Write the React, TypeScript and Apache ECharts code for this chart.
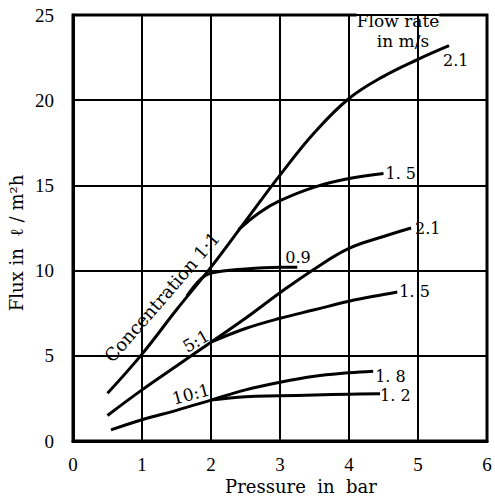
import React, { useEffect, useRef } from "react";
import * as echarts from "echarts";

const xTicks = [0, 1, 2, 3, 4, 5, 6];
const yTicks = [0, 5, 10, 15, 20, 25];

// Concentration 1:1
const c1_v21: number[][] = [[0.5, 2.8], [1, 5.1], [1.5, 7.7], [2, 10.2], [2.5, 12.9], [3, 15.6], [3.5, 18.1], [4, 20.1], [4.5, 21.4], [5, 22.4], [5.45, 23.2]];
const c1_v15: number[][] = [[2.4, 12.4], [2.7, 13.4], [3, 14.1], [3.5, 14.9], [4, 15.4], [4.5, 15.7]];
const c1_v09: number[][] = [[1.65, 8.5], [1.85, 9.5], [2, 9.85], [2.5, 10.1], [3, 10.2], [3.25, 10.2]];
// Concentration 5:1
const c5_v21: number[][] = [[0.5, 1.5], [1, 3.0], [1.5, 4.4], [2, 5.8], [2.5, 7.2], [3, 8.7], [3.5, 10.1], [4, 11.3], [4.5, 12.0], [4.9, 12.5]];
const c5_v15: number[][] = [[2, 5.8], [2.5, 6.6], [3, 7.2], [3.5, 7.7], [4, 8.2], [4.5, 8.6], [4.7, 8.75]];
// Concentration 10:1
const c10_v18: number[][] = [[0.55, 0.65], [1, 1.25], [1.5, 1.8], [2, 2.4], [2.5, 3.0], [3, 3.45], [3.5, 3.8], [4, 4.0], [4.35, 4.1]];
const c10_v12: number[][] = [[2, 2.4], [2.5, 2.6], [3, 2.65], [3.5, 2.7], [4, 2.75], [4.45, 2.78]];

const FONT = "Liberation Serif";
const LFONT = "DejaVu Serif";

export default function App() {
  const ref = useRef<HTMLDivElement>(null);
  useEffect(() => {
    if (!ref.current) return;
    const chart = echarts.init(ref.current, null, { renderer: "svg" });
    const line = (data: number[][], label: string, offset: number[]) => ({
      type: "line",
      data,
      smooth: 0.4,
      showSymbol: false,
      symbol: "none",
      lineStyle: { color: "#000", width: 3 },
      endLabel: label
        ? { show: true, formatter: label, offset, distance: 2, color: "#000", fontFamily: LFONT, fontSize: 16 }
        : { show: false },
      silent: true,
    });
    const txt = (x: number, y: number, text: string, rot = 0, bg = false, size = 17, pad: number[] = [0, 0]) => ({
      type: "text", x, y, rotation: rot * Math.PI / 180,
      style: { text, fontFamily: LFONT, fontSize: size, fill: "#000", align: "center", verticalAlign: "middle", backgroundColor: bg ? "#fff" : undefined, padding: pad },
    });
    chart.setOption({
      animation: false,
      backgroundColor: "#fff",
      grid: { left: 73, top: 15, width: 414, height: 426, show: true, borderColor: "#000", borderWidth: 3, backgroundColor: "transparent" },
      xAxis: {
        type: "value", min: 0, max: 6, interval: 1,
        axisLine: { lineStyle: { color: "#000", width: 3 } },
        axisTick: { show: false },
        axisLabel: { color: "#000", fontFamily: FONT, fontSize: 19, margin: 14, formatter: (v: number) => String(xTicks.includes(v) ? v : "") },
        splitLine: { show: true, lineStyle: { color: "#000", width: 2 } },
      },
      yAxis: {
        type: "value", min: 0, max: 25, interval: 5,
        axisLine: { show: true, lineStyle: { color: "#000", width: 3 } },
        axisTick: { show: false },
        axisLabel: { color: "#000", fontFamily: FONT, fontSize: 19, margin: 19, formatter: (v: number) => String(yTicks.includes(v) ? v : "") },
        splitLine: { show: true, lineStyle: { color: "#000", width: 2 } },
      },
      series: [
        line(c1_v21, "2.1", [-8, 15]),
        line(c1_v15, "1. 5", [0, 0]),
        line(c1_v09, "", [0, 0]),
        line(c5_v21, "2.1", [2, 0]),
        line(c5_v15, "1. 5", [0, 0]),
        line(c10_v18, "1. 8", [0, 5]),
        line(c10_v12, "1. 2", [-2, 2]),
      ],
      graphic: [
        { type: "rect", shape: { x: 418, y: 17, width: 6, height: 38 }, style: { fill: "#fff" } },
        txt(298, 257, "0.9", 0, true, 16, [3, 2]),
        txt(398, 21, "Flow rate", 0, true),
        txt(403, 41, "in m/s", 0, true),
        txt(162, 297, "Concentration 1:1", 49, true, 18),
        txt(196, 341, "5:1", 30, false),
        txt(191, 394, "10:1", 15, false),
        txt(301, 486, "Pressure  in  bar", 0, false, 18),
        txt(16, 243, "Flux in  \u2113 / m\u00b2h", 90, false, 18),
      ],
    });
    return () => chart.dispose();
  }, []);
  return <div ref={ref} style={{ width: 495, height: 500, position: "absolute", left: 0, top: 0 }} />;
}
